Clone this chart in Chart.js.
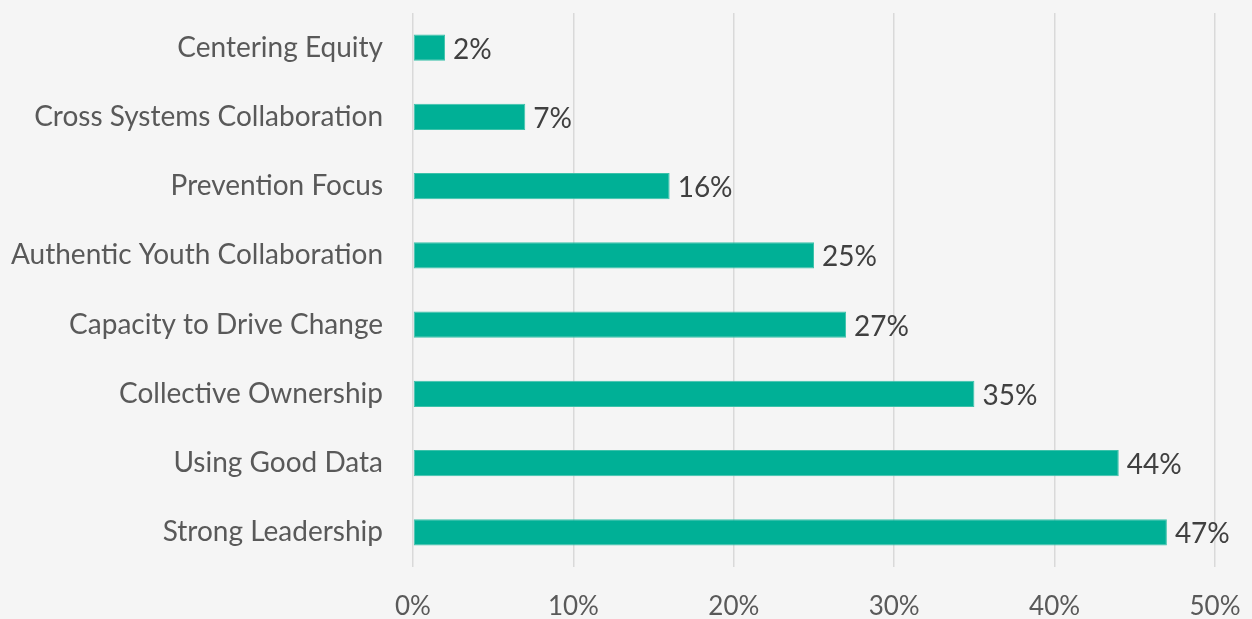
<!DOCTYPE html>
<html>
<head>
<meta charset="utf-8">
<script src="https://cdn.jsdelivr.net/npm/chart.js@4/dist/chart.umd.min.js"></script>
<style>
  html, body { margin: 0; padding: 0; background: #f5f5f5; }
  #wrap { width: 1252px; height: 619px; }
</style>
</head>
<body>
<div id="wrap"><canvas id="priorityChart"></canvas></div>
<script>
// Categories and percentages (top to bottom)
const categories = [
    'Centering Equity',
    'Cross Systems Collaboration',
    'Prevention Focus',
    'Authentic Youth Collaboration',
    'Capacity to Drive Change',
    'Collective Ownership',
    'Using Good Data',
    'Strong Leadership'
];
const percentValues = [2, 7, 16, 25, 27, 35, 44, 47];
const xTicks = [0, 10, 20, 30, 40, 50];

const fontFamily = 'Lato, "Noto Sans", sans-serif';

// simple value labels at the end of each bar
const barValueLabels = {
    id: 'barValueLabels',
    afterDatasetsDraw(chart) {
        const ctx = chart.ctx;
        const meta = chart.getDatasetMeta(0);
        ctx.save();
        ctx.font = '28px ' + fontFamily;
        ctx.fillStyle = '#404040';
        ctx.textAlign = 'left';
        ctx.textBaseline = 'middle';
        meta.data.forEach((bar, i) => {
            ctx.fillText(percentValues[i] + '%', bar.x + 8, bar.y + 2);
        });
        ctx.restore();
    }
};

const ctxPriority = document.getElementById('priorityChart').getContext('2d');
const priorityChart = new Chart(ctxPriority, {
    type: 'bar',
    data: {
        labels: categories,
        datasets: [{
            data: percentValues,
            backgroundColor: '#00b096',
            borderColor: '#3cc2aa',
            borderWidth: 1,
            borderSkipped: false,
            barPercentage: 0.38,
            categoryPercentage: 1
        }]
    },
    options: {
        indexAxis: 'y',
        responsive: true,
        maintainAspectRatio: false,
        animation: false,
        layout: {
            padding: { top: 13, right: 37, left: 0, bottom: 0 }
        },
        scales: {
            x: {
                min: 0,
                max: 50,
                afterBuildTicks: (scale) => {
                    scale.ticks = xTicks.map(v => ({ value: v }));
                },
                afterFit: (scale) => {
                    scale.height = 52;
                    scale.paddingLeft = 0;
                    scale.paddingRight = 0;
                },
                grid: {
                    color: '#d9d9d9',
                    lineWidth: 1.5,
                    drawTicks: false
                },
                border: { display: false },
                ticks: {
                    padding: 24,
                    color: '#595959',
                    font: { family: fontFamily, size: 26 },
                    maxRotation: 0,
                    callback: (v) => v + '%'
                }
            },
            y: {
                afterFit: (scale) => {
                    scale.width = 413;
                    scale.paddingTop = 0;
                    scale.paddingBottom = 0;
                },
                grid: { display: false },
                border: { display: false },
                ticks: {
                    padding: 22,
                    color: '#595959',
                    font: { family: fontFamily, size: 28 }
                }
            }
        },
        plugins: {
            legend: { display: false },
            tooltip: { enabled: false }
        }
    },
    plugins: [barValueLabels]
});
</script>
</body>
</html>
